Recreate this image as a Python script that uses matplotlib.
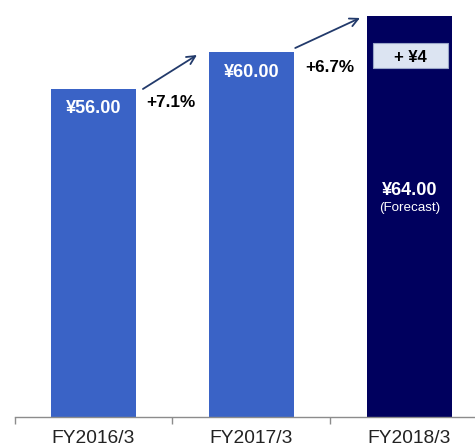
import matplotlib
matplotlib.use("Agg")
import matplotlib.pyplot as plt
from matplotlib.patches import FancyBboxPatch

plt.rcParams['font.family'] = ['Liberation Sans', 'DejaVu Sans']

categories = ["FY2016/3", "FY2017/3", "FY2018/3"]
dividends = [56.00, 60.00, 64.00]
growth_labels = ["+7.1%", "+6.7%"]
bar_colors = ["#3A63C6", "#3A63C6", "#00005E"]

fig = plt.figure(figsize=(4.75, 4.43), dpi=100)
ax = fig.add_axes([14.5 / 475, (443 - 416.5) / 443, 1 - 14.5 / 475, 416.5 / 443])

x = list(range(len(categories)))
ax.bar(x, dividends, width=0.54, color=bar_colors, bottom=0, zorder=2)

# value labels inside the bars
ax.text(0, dividends[0] - 2.15, f"¥{dividends[0]:.2f}", color="white",
        fontsize=13, fontweight="bold", ha="center", va="center")
ax.text(1, dividends[1] - 2.15, f"¥{dividends[1]:.2f}", color="white",
        fontsize=13, fontweight="bold", ha="center", va="center")
ax.text(2, dividends[2] - 19.15, f"¥{dividends[2]:.2f}", color="white",
        fontsize=13, fontweight="bold", ha="center", va="center")
ax.text(2, dividends[2] - 21.0, "(Forecast)", color="white",
        fontsize=9.6, ha="center", va="center")

# increment box on the forecast bar
inc = dividends[2] - dividends[1]
box = FancyBboxPatch((2.006 - 0.237, 58.3), 0.474, 2.74, boxstyle="square,pad=0",
                     facecolor="#DCE4F2", edgecolor="#9AA6C8", linewidth=0.8, zorder=3)
ax.add_patch(box)
ax.text(2.006, 59.4, f"+ ¥{inc:.0f}", color="black", fontsize=12,
        fontweight="bold", ha="center", va="center", zorder=4)

# growth arrows and percentages
arrow_kw = dict(arrowstyle="->", color="#223A6B", lw=1.3, mutation_scale=15,
                shrinkA=0, shrinkB=0)
ax.annotate("", xy=(0.655, 59.72), xytext=(0.313, 56.0), arrowprops=arrow_kw)
ax.annotate("", xy=(1.687, 63.78), xytext=(1.277, 60.49), arrowprops=arrow_kw)
ax.text(0.49, 54.5, growth_labels[0], color="black", fontsize=12.3,
        fontweight="bold", ha="center", va="center")
ax.text(1.497, 58.4, growth_labels[1], color="black", fontsize=12.3,
        fontweight="bold", ha="center", va="center")

# axes styling
for side in ["top", "right", "left"]:
    ax.spines[side].set_visible(False)
ax.spines["bottom"].set_color("#8C8C8C")
ax.spines["bottom"].set_linewidth(1.0)
ax.set_yticks([])
ax.set_xticks([-0.5, 0.5, 1.5, 2.5])
ax.set_xticklabels([])
ax.tick_params(axis="x", which="major", length=5, color="#8C8C8C", width=1.0)
ax.set_xticks(x, minor=True)
ax.set_xticklabels(categories, minor=True)
ax.tick_params(axis="x", which="minor", length=0, pad=9.5, labelsize=13.8,
               labelcolor="#222222")

ax.set_xlim(-0.5, 2.415)
ax.set_ylim(20.11, 65.75)

fig.savefig("out.png", dpi=100)
